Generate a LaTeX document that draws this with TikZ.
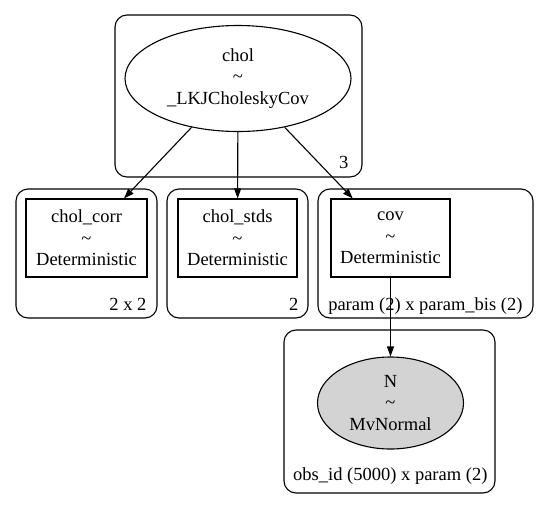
\documentclass[tikz,border=0pt]{standalone}
\usepackage{fontspec}
\setmainfont{Liberation Serif}
\usetikzlibrary{arrows.meta, positioning, shapes.geometric}
\definecolor{nGray}{HTML}{D3D3D3}

\begin{document}
\begin{tikzpicture}[x=1pt, y=-1pt, line width=1.1pt,
    every node/.style={font=\fontsize{18.5}{21.5}\selectfont, align=center},
    plate/.style={draw, rounded corners=12pt},
    platelabel/.style={anchor=base east, inner sep=0pt},
    rv/.style={draw, ellipse, inner sep=0pt},
    det/.style={draw, rectangle, minimum height=78pt, inner sep=0pt},
    edge/.style={-{Triangle[length=10pt, width=7pt]}}]
    \useasboundingbox (0,0) rectangle (549,509);
    % plates
    \draw[plate] (115,15) rectangle (362,177);
    \draw[plate] (16,189) rectangle (157,318);
    \draw[plate] (167,189) rectangle (308,318);
    \draw[plate] (318,189) rectangle (533,318);
    \draw[plate] (284,330) rectangle (495,493);
    \node[platelabel] (l1) at (349,168) {3};
    \node[platelabel] (l2) at (147,310) {2 x 2};
    \node[platelabel] (l3) at (299,310) {2};
    \node[platelabel] (l4) at (523,310) {param (2) x param\_bis (2)};
    \node[platelabel] (l5) at (488,480) {obs\_id (5000) x param (2)};
    % variables
    \node[rv, minimum width=226pt, minimum height=106pt] (chol) at (238,78.5)
      {chol\\\textasciitilde\\\_LKJCholeskyCov};
    \node[det, minimum width=121pt] (cholcorr) at (86.5,238)
      {chol\_corr\\\textasciitilde\\Deterministic};
    \node[det, minimum width=119pt] (cholstds) at (237.5,238)
      {chol\_stds\\\textasciitilde\\Deterministic};
    \node[det, minimum width=119pt] (cov) at (390.5,238)
      {cov\\\textasciitilde\\Deterministic};
    \node[rv, fill=nGray, minimum width=146pt, minimum height=92pt] (N) at (390.5,403)
      {N\\\textasciitilde\\MvNormal};
    % edges
    \foreach \t in {cholcorr, cholstds, cov}
      \draw[edge] (chol) -- (\t);
    \draw[edge] (cov) -- (N);
\end{tikzpicture}
\end{document}
